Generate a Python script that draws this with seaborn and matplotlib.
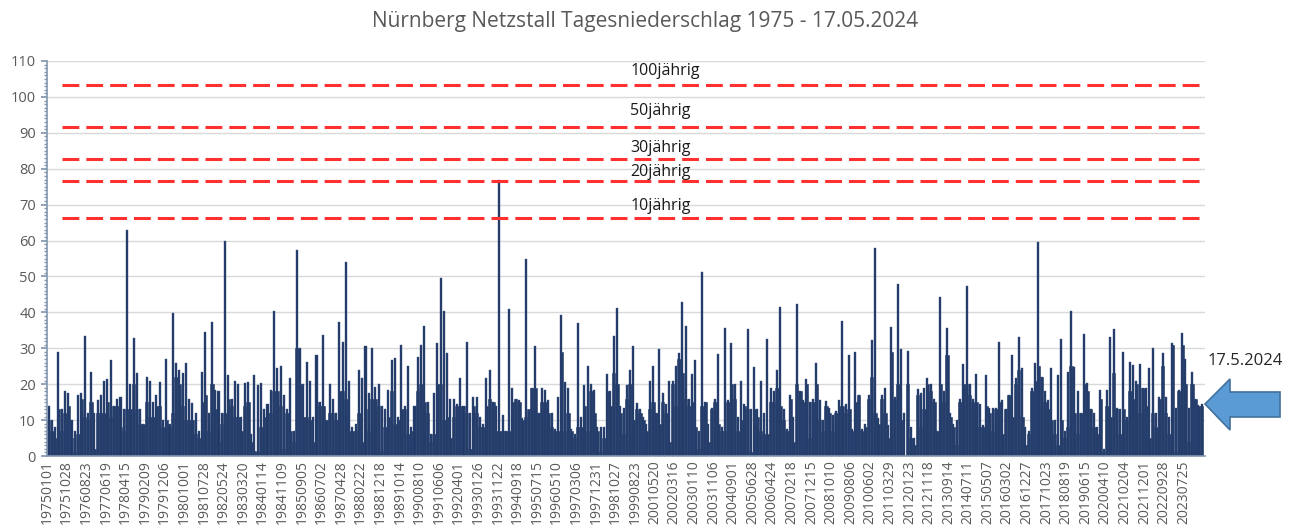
import numpy as np
import pandas as pd
import seaborn as sns
import matplotlib.pyplot as plt
from matplotlib.patches import Polygon
from matplotlib.ticker import MultipleLocator

# daily precipitation (mm), condensed to blocks of 50 days:
# peak = highest day in the block, base = the typical level of the block
peak = [14, 10, 8, 29, 13, 18, 17.5, 10, 7, 17, 17.5, 33.5, 12, 23.5, 12, 15.5, 17, 21, 21.5, 26.7,
        14, 16, 16.5, 13, 63, 20, 33, 23, 13, 9, 22, 21, 15, 17, 20.7, 10, 27, 9, 39.7, 26,
        24, 23, 26, 16, 14.7, 12, 7, 23.5, 34.6, 12, 37.4, 18.4, 18, 12, 60, 22.5, 16, 21, 20, 11,
        20.4, 20.7, 6, 22.5, 19.8, 20.4, 13, 14.5, 18.4, 40.4, 24.4, 25, 17, 13, 21.6, 7, 57.4, 30, 20, 26.3,
        21, 11, 28, 15, 33.7, 10, 20, 16, 12, 37.4, 31.8, 54, 21, 8, 9, 24, 21.6, 30.7, 17.5, 30,
        19.3, 20, 14, 13, 18.4, 26.7, 27.2, 11, 31, 14, 25, 8, 14, 27.7, 31, 36.3, 15, 6, 17.5, 31.4,
        49.7, 40.4, 28.6, 16, 16, 14.5, 21.6, 14, 31.7, 12, 16.3, 16.5, 11, 9, 21.6, 24, 15, 14, 77, 11.5,
        7, 41, 19, 16, 15.5, 10.5, 54.8, 12.5, 19, 30.7, 12, 19, 18.4, 15.5, 12, 7.5, 16.5, 39.3, 20.7, 19,
        7.5, 6, 37, 11, 19.8, 25, 20, 18.4, 8, 8, 8, 22.8, 18, 33.4, 41.3, 14, 13.5, 19.8, 24, 30.7,
        14.8, 13, 11, 9, 20.9, 25, 12, 29.7, 17.5, 14.5, 21, 21, 25, 28.6, 43, 36.2, 16, 22.8, 26.7, 7,
        51.3, 15, 9, 13.5, 16, 28.3, 8, 35.7, 15.5, 31.4, 20, 11, 21, 14.5, 35.3, 13, 24.9, 13, 21, 12,
        32.5, 19, 18, 24, 41.6, 13, 7.5, 17, 11, 42.2, 18, 15.5, 21.4, 15, 16, 26, 15.5, 10, 15.3, 13.5,
        11.5, 12.5, 15.5, 37.7, 14.5, 28, 7.5, 29, 17, 7.5, 9, 17, 32.3, 57.8, 10.5, 17, 19, 8.5, 36, 16.5,
        48, 29.8, 12, 29.3, 8, 5, 18.6, 17.5, 18.8, 21.6, 20, 16, 7, 44.4, 18, 35.6, 12, 9, 10, 16,
        25.5, 47.4, 20, 16, 22.8, 14.5, 8.5, 22.6, 13.5, 13.5, 13.5, 31.7, 15.5, 13, 17, 28, 21.6, 33.2, 24.4, 8,
        7, 18.8, 26, 59.5, 22, 18, 15.5, 24.6, 10, 22.6, 32.5, 7, 23.5, 40.4, 24.9, 18.2, 12, 34, 20.4, 13,
        12, 8, 18.4, 2, 18.5, 33.2, 35.4, 13.5, 13, 29, 11, 26.3, 25.3, 21, 25.6, 19, 19, 24.4, 30, 12,
        16.5, 28.6, 16.5, 11, 31.4, 13.5, 18.4, 34.2, 27, 13.5, 23.5, 16, 14.2, 14.5]

base = [10, 7, 5, 13, 7, 12, 14, 5, 1, 6, 16, 11, 10, 15, 2, 12, 12, 12, 15, 11,
        14, 14, 8, 7, 13, 13, 20, 13, 9, 9, 15, 11, 11, 14, 14, 8, 10, 8, 12, 22,
        20, 14, 10, 10, 10, 6, 5, 15, 17, 7, 20, 13, 4, 9, 12, 16, 14, 11, 11, 7,
        14, 15, 4, 1.5, 1, 8, 11, 12, 12, 18, 18, 14, 2, 12, 7, 4, 30, 20, 11, 11,
        10, 4, 15, 14, 14, 10, 12, 12, 10, 18, 18, 16, 7, 7, 7, 12, 4, 13, 7, 16,
        16, 14, 1.5, 8, 11, 18, 9, 10, 13, 13, 6, 7, 14, 18, 20, 15, 12, 4, 6, 20,
        20, 10, 11, 5, 11, 14, 14, 14, 12, 2, 14, 12, 8, 8, 14, 16, 15, 7, 7, 7,
        7, 7, 15, 16, 15, 10, 11, 13, 19, 19, 12, 15, 15, 12, 8, 7, 7, 29, 7, 12,
        7, 5, 8, 8, 14, 7, 18, 12, 7, 1, 5, 18, 14, 23, 20, 12, 6, 16, 20, 10,
        13, 12, 10, 7, 13, 15, 12, 9, 15, 12, 4, 20, 14, 27, 23, 16, 14, 15, 8, 2,
        14, 15, 4, 13, 15, 9, 7, 7, 15, 20, 16, 7, 10, 14, 13, 1, 13, 11, 7, 6,
        6, 15, 15, 19, 14, 10, 7, 16, 4, 20, 18, 15, 20, 5, 15, 20, 10, 7, 14, 12,
        7, 12, 14, 14, 12, 13, 7, 15, 17, 7, 8, 16, 22, 12, 9, 16, 12, 5, 29, 16,
        20, 10, 0, 20, 5, 3, 17, 8, 13, 20, 18, 15, 7, 20, 15, 28, 11, 8, 3, 15,
        20, 20, 17, 15, 15, 8, 8, 14, 12, 7, 13, 15, 6, 13, 17, 11, 20, 24, 11, 3,
        6, 18, 21, 25, 22, 15, 13, 10, 6, 3, 10, 5, 8, 25, 12, 6, 12, 20, 18, 13,
        8, 6, 16, 1, 14, 11, 23, 13, 6, 13, 10, 18, 16, 20, 12, 19, 14, 5, 12, 8,
        16, 25, 12, 6, 31, 1, 18, 31, 20, 4, 20, 16, 14, 14]

tick_labels = ['19750101', '19751028', '19760823', '19770619', '19780415', '19790209', '19791206',
               '19801001', '19810728', '19820524', '19830320', '19840114', '19841109', '19850905',
               '19860702', '19870428', '19880222', '19881218', '19891014', '19900810', '19910606',
               '19920401', '19930126', '19931122', '19940918', '19950715', '19960510', '19970306',
               '19971231', '19981027', '19990823', '20010520', '20020316', '20030110', '20031106',
               '20040901', '20050628', '20060424', '20070218', '20071215', '20081010', '20090806',
               '20100602', '20110329', '20120123', '20121118', '20130914', '20140711', '20150507',
               '20160302', '20161227', '20171023', '20180819', '20190615', '20200410', '20210204',
               '20211201', '20220928', '20230725']

return_names = ['10jährig', '20jährig', '30jährig', '50jährig', '100jährig']
return_levels = [66.2, 76.6, 82.6, 91.7, 103.3]
label_y = [69.6, 79.1, 85.8, 96.1, 107.2]

navy = '#203864'
grey = '#595959'
axis_col = '#8497b0'

sns.set_theme(style='white')
plt.rcParams['font.family'] = ['Open Sans', 'DejaVu Sans']

df = pd.DataFrame({'slot': np.arange(len(peak)), 'peak': peak, 'base': base})

fig = plt.figure(figsize=(12.95, 5.31), dpi=100)
ax = fig.add_axes([47 / 1295, 1 - 456 / 531, 1158 / 1295, 395 / 531])

sns.barplot(data=df, x='slot', y='base', color=navy, width=1.0, saturation=1,
            errorbar=None, linewidth=0.4, edgecolor=navy, ax=ax)
sns.barplot(data=df, x='slot', y='peak', color=navy, width=0.62, saturation=1,
            errorbar=None, linewidth=0.3, edgecolor='#3c5482', ax=ax)

for lvl, name, ty in zip(return_levels, return_names, label_y):
    ax.axhline(lvl, xmin=15 / 1158, xmax=1, color='#ff3030', lw=2.2, dashes=(5.5, 2.3), zorder=3)
    ax.text(178, ty, name, ha='left', va='center', fontsize=11.5, color='#1a1a1a')

ax.set_xlim(-0.5, 354)
ax.set_ylim(0, 110)
ax.set_xticks(np.arange(len(tick_labels)) * 6 - 0.5)
ax.set_xticklabels(tick_labels, rotation=90, fontsize=10, color=grey)
ax.tick_params(axis='x', length=0, pad=3)
ax.set_yticks(range(0, 111, 10))
ax.yaxis.set_minor_locator(MultipleLocator(1))
ax.tick_params(axis='y', which='major', length=4, color=axis_col, labelsize=10.5,
               labelcolor=grey, pad=4, left=True)
ax.tick_params(axis='y', which='minor', length=2.5, color=axis_col, left=True)
ax.set_xlabel('')
ax.set_ylabel('')
ax.grid(axis='y', color='#d9d9d9', lw=1)
ax.set_axisbelow(True)
for s in ['top', 'right']:
    ax.spines[s].set_visible(False)
for s in ['left', 'bottom']:
    ax.spines[s].set_color(axis_col)
    ax.spines[s].set_linewidth(1.2)

fig.text(645 / 1295, 1 - 22 / 531, 'Nürnberg Netzstall Tagesniederschlag 1975 - 17.05.2024',
         ha='center', va='center', fontsize=15, color=grey)

# blue arrow pointing at the last day
pts = [(1205, 404), (1230, 379), (1230, 392), (1280, 392), (1280, 417), (1230, 417), (1230, 430)]
arrow = Polygon([(x / 1295, 1 - y / 531) for x, y in pts], closed=True,
                transform=fig.transFigure, facecolor='#5b9bd5', edgecolor='#41719c', lw=1.2)
fig.patches.append(arrow)
fig.text(1245 / 1295, 1 - 361 / 531, '17.5.2024', ha='center', va='center', fontsize=12, color='#262626')

fig.savefig('out.png', dpi=100)
